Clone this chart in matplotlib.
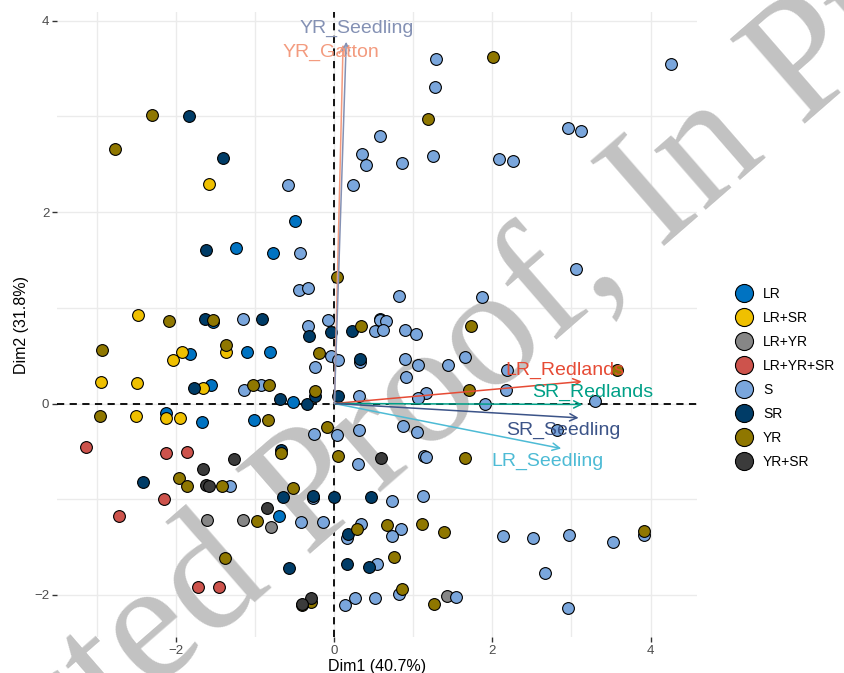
import numpy as np
import matplotlib
matplotlib.use('Agg')
import matplotlib.pyplot as plt
from matplotlib.lines import Line2D

plt.rcParams['font.family'] = ['Liberation Sans', 'DejaVu Sans']

# group names and colours (legend order)
groups = ['LR', 'LR+SR', 'LR+YR', 'LR+YR+SR', 'S', 'SR', 'YR', 'YR+SR']
group_colors = ['#0073C2', '#EFC000', '#868686', '#CD534C', '#7AA6DC', '#003C67', '#8F7700', '#3B3B3B']

# individuals (Dim1, Dim2) per group
lr_x = [-0.50, -1.24, -0.78, -1.54, -1.83, -1.11, -0.82, -1.56, -0.52, -2.13, -1.68, -1.02, -0.70, 0.58]
lr_y = [1.91, 1.62, 1.57, 0.85, 0.52, 0.54, 0.54, 0.19, 0.02, -0.10, -0.19, -0.17, -1.18, 0.88]

lrsr_x = [-1.59, -2.48, -1.93, -2.04, -1.37, -2.95, -2.50, -1.66, -2.51, -2.13, -1.95]
lrsr_y = [2.29, 0.93, 0.54, 0.45, 0.54, 0.22, 0.21, 0.16, -0.13, -0.15, -0.15]

lryr_x = [-1.61, -1.16, -0.80, 1.43]
lryr_y = [-1.22, -1.22, -1.29, -2.01]

lryrsr_x = [-3.14, -2.13, -1.86, -2.15, -2.72, -1.73, -1.46]
lryrsr_y = [-0.45, -0.52, -0.51, -1.00, -1.18, -1.92, -1.92]

s_x = [-0.59, -0.43, -0.45, -0.34, 1.28, 4.26, 1.27, 2.95, 3.12, 0.58, 0.35, 0.40, 0.86, 1.25,
       2.08, 2.26, 0.24, 3.06, 0.82, 1.87, -1.16, -1.14, -0.93, -0.26, -0.27, -0.42, -0.14, -0.25,
       -0.34, -0.04, -0.08, 0.51, 0.58, 0.65, 0.62, 0.89, 1.03, 0.05, 0.33, 0.89, 1.06, 1.44,
       1.65, 0.91, 0.31, 1.16, 1.06, 1.90, 0.03, 0.31, 0.87, 1.04, 1.13, 1.16, 0.30, 0.73,
       1.12, -1.32, 0.16, 0.34, 0.84, 0.73, 0.54, 0.82, 1.54, 0.26, 0.52, 0.14, 2.18, 2.17,
       3.30, 2.82, 2.13, 2.51, 2.97, 3.53, 3.92, 2.67, 2.95]
s_y = [2.28, 1.57, 1.19, 1.21, 3.60, 3.55, 3.31, 2.88, 2.85, 2.80, 2.61, 2.49, 2.51, 2.59,
       2.56, 2.53, 2.28, 1.41, 1.12, 1.11, 0.88, 0.14, 0.19, -0.32, -0.99, -1.24, -1.24, 0.38,
       0.81, 0.50, 0.87, 0.76, 0.87, 0.86, 0.77, 0.77, 0.73, 0.45, 0.43, 0.47, 0.40, 0.40,
       0.49, 0.28, 0.08, 0.11, 0.06, -0.01, -0.33, -0.28, -0.23, -0.30, -0.55, -0.56, -0.63, -1.02,
       -0.97, -0.86, -1.41, -1.26, -1.31, -1.38, -1.68, -1.99, -2.02, -2.03, -2.03, -2.11, 0.35, 0.14,
       0.03, -0.28, -1.38, -1.41, -1.37, -1.45, -1.37, -1.77, -2.14]

sr_x = [-1.84, -1.41, -1.62, -1.64, -0.91, -1.77, -0.69, -0.35, -2.42, -0.67, -0.65, -0.27,
        0.00, -0.57, -0.24, -0.32, 0.04, -0.04, 0.22, 0.33, 0.46, 0.17, 0.16, 0.44]
sr_y = [3.00, 2.57, 1.60, 0.88, 0.88, 0.16, 0.05, -0.01, -0.82, -0.49, -0.98, -0.97,
        -0.98, -1.72, 0.08, 0.71, 0.08, 0.75, 0.76, 0.46, -0.98, -1.36, -1.68, -1.71]

yr_x = [-2.31, -2.77, 0.03, 2.01, 1.19, -2.09, -1.53, -2.94, -1.37, -1.03, -0.83, -2.97, -0.84,
        -1.97, -1.87, -1.42, -0.98, -1.38, -0.09, -0.67, -0.52, -0.30, -0.41, 0.34, 1.73, -0.24,
        -0.19, 1.70, 0.05, 1.65, 0.28, 0.66, 1.11, 1.39, 0.75, 0.85, 1.26, 3.58, 3.92]
yr_y = [3.01, 2.66, 1.32, 3.62, 2.97, 0.86, 0.87, 0.56, 0.61, 0.19, 0.19, -0.13, -0.17,
        -0.78, -0.86, -0.86, -1.23, -1.61, -0.25, -0.52, -0.88, -2.07, -2.11, 0.81, 0.81, 0.13,
        0.53, 0.14, -0.55, -0.57, -1.31, -1.27, -1.26, -1.34, -1.60, -1.94, -2.10, 0.35, -1.33]

yrsr_x = [-1.27, -1.66, -1.62, -1.59, -0.85, -0.30, -0.41, 0.59]
yrsr_y = [-0.58, -0.68, -0.85, -0.86, -1.09, -2.03, -2.09, -0.57]

group_x = [lr_x, lrsr_x, lryr_x, lryrsr_x, s_x, sr_x, yr_x, yrsr_x]
group_y = [lr_y, lrsr_y, lryr_y, lryrsr_y, s_y, sr_y, yr_y, yrsr_y]

# variables (arrows)
var_names = ['LR_Redlands', 'LR_Seedling', 'SR_Redlands', 'SR_Seedling', 'YR_Gatton', 'YR_Seedling']
var_x = [3.13, 2.87, 3.14, 3.09, 0.11, 0.15]
var_y = [0.23, -0.47, -0.01, -0.15, 3.75, 3.78]
var_colors = ['#E64B35', '#4DBBD5', '#00A087', '#3C5488', '#F39B7F', '#8491B4']
label_x = [2.92, 2.70, 3.27, 2.90, -0.04, 0.28]
label_y = [0.35, -0.60, 0.12, -0.28, 3.67, 3.92]

fig = plt.figure(figsize=(8.44, 6.73), dpi=100)
ax = fig.add_axes([0.0675, 0.0535, 0.7585, 0.9285])

ax.set_xlim(-3.51, 4.59)
ax.set_ylim(-2.44, 4.09)
ax.set_xticks([-2, 0, 2, 4])
ax.set_xticks([-3, -1, 1, 3], minor=True)
ax.set_yticks([-2, 0, 2, 4])
ax.set_yticks([-1, 1, 3], minor=True)
ax.grid(True, which='both', color='#EBEBEB', lw=1.0, zorder=0)
ax.set_axisbelow(True)
for sp in ax.spines.values():
    sp.set_visible(False)
ax.tick_params(which='major', length=3.5, width=1.0, color='#333333', labelcolor='#4D4D4D', labelsize=9.5, pad=2)
ax.tick_params(which='minor', length=0)

ax.axhline(0, color='black', ls=(0, (4, 3)), lw=1.3, zorder=1)
ax.axvline(0, color='black', ls=(0, (4, 3)), lw=1.3, zorder=1)

# watermark
ax.text(0.387, 0.279, 'Uncorrected Proof, In Press', transform=fig.transFigure,
        fontsize=124, family='Liberation Serif', color='#C2C2C2', rotation=41,
        rotation_mode='anchor', ha='center', va='center', zorder=1.5, clip_on=False)

for gx, gy, c in zip(group_x, group_y, group_colors):
    ax.scatter(gx, gy, s=72, c=c, edgecolors='black', linewidths=0.8, zorder=3)

for vx, vy, c in zip(var_x, var_y, var_colors):
    ax.annotate('', xy=(vx, vy), xytext=(0, 0),
                arrowprops=dict(arrowstyle='->', color=c, lw=1.1, mutation_scale=13,
                                shrinkA=0, shrinkB=0), zorder=4)
for name, lx, ly, c in zip(var_names, label_x, label_y, var_colors):
    ax.text(lx, ly, name, color=c, fontsize=14, ha='center', va='center', zorder=5)

ax.set_xlabel('Dim1 (40.7%)', fontsize=11.5, labelpad=2)
ax.set_ylabel('Dim2 (31.8%)', fontsize=11.5, labelpad=4)

handles = [Line2D([], [], marker='o', ls='', markersize=13, markerfacecolor=c,
                  markeredgecolor='black', markeredgewidth=0.8) for c in group_colors]
fig.legend(handles, groups, loc='center left', bbox_to_anchor=(0.858, 0.438),
           frameon=False, fontsize=10, labelspacing=0.72, handletextpad=0.4,
           borderaxespad=0)

fig.savefig('out.png', dpi=100)
